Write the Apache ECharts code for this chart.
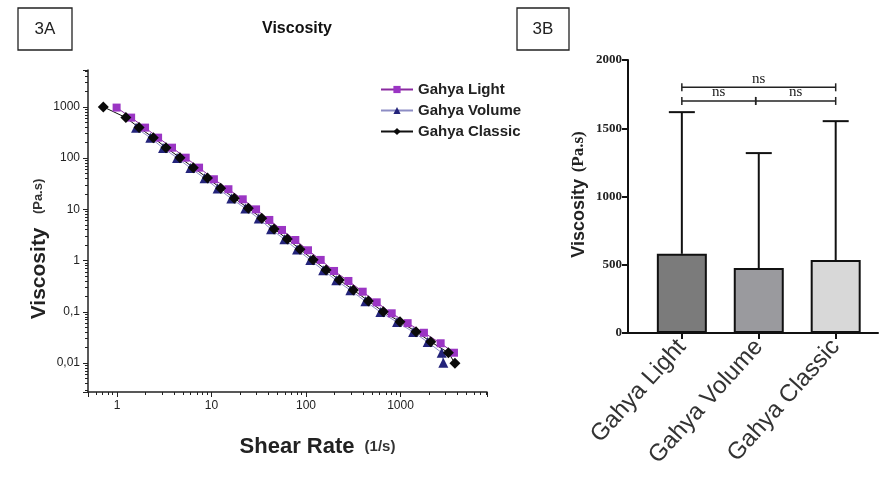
<!DOCTYPE html>
<html>
<head>
<meta charset="utf-8">
<script src="https://cdn.jsdelivr.net/npm/echarts@6/dist/echarts.min.js"></script>
<style>
  html, body { margin: 0; padding: 0; background: #fff; }
  #chart { width: 879px; height: 482px; }
</style>
</head>
<body>
<div id="chart"></div>
<script>
// ---- 3A : viscosity vs shear rate (log/log) ----
var shearLight = [0.99, 1.41, 1.98, 2.72, 3.82, 5.33, 7.38, 10.6, 15.1, 21.4, 29.6, 40.9, 55.7, 77.1, 105, 143, 198, 281, 398, 560, 807, 1190, 1770, 2660, 3680];
var viscLight  = [969, 618, 394, 251, 160, 102, 65.2, 38.7, 24.7, 15.7, 10.0, 6.21, 3.96, 2.52, 1.59, 1.03, 0.627, 0.40, 0.247, 0.153, 0.0935, 0.060, 0.039, 0.0243, 0.0159];

var shearVolume = [1.59, 2.25, 3.07, 4.32, 5.97, 8.44, 11.6, 16.2, 22.8, 31.6, 42.7, 59.0, 80.4, 111, 152, 209, 295, 425, 612, 919, 1360, 1940, 2730, 2840];
var viscVolume  = [392, 250, 158, 101, 64.5, 40.6, 25.5, 16.3, 10.4, 6.62, 4.10, 2.61, 1.64, 1.03, 0.648, 0.413, 0.264, 0.161, 0.099, 0.063, 0.0405, 0.0257, 0.0159, 0.0101];

var shearClassic = [0.716, 1.24, 1.71, 2.42, 3.30, 4.64, 6.42, 9.07, 12.5, 17.4, 24.5, 34.0, 45.9, 63.4, 86.4, 119, 163, 225, 317, 457, 658, 988, 1460, 2090, 3210, 3770];
var viscClassic  = [1000, 618, 394, 251, 160, 102, 65.2, 41.0, 25.8, 16.5, 10.5, 6.70, 4.14, 2.64, 1.66, 1.04, 0.655, 0.418, 0.267, 0.163, 0.100, 0.064, 0.041, 0.026, 0.0159, 0.0099];

// ---- 3B : mean viscosity with upper SD ----
var products = ['Gahya Light', 'Gahya Volume', 'Gahya Classic'];
var meanVisc = [580, 476, 534];
var upperSD  = [1618, 1318, 1552];
var barColors = ['#7b7b7b', '#9a9a9e', '#d8d8d8'];
// comparisons: [from, to, height, label]
var comparisons = [[1, 3, 1800, 'ns'], [1, 1.96, 1700, 'ns'], [1.96, 3, 1700, 'ns']];

function zip(a, b) {
  return a.map(function (v, i) { return [v, b[i]]; });
}

var myChart = echarts.init(document.getElementById('chart'));

var boxStyle = { fill: '#fff', stroke: '#222', lineWidth: 1.3 };

var option = {
  backgroundColor: '#fff',
  animation: false,
  textStyle: { fontFamily: 'Liberation Sans, Arial, sans-serif' },
  title: {
    text: 'Viscosity',
    left: 292,
    top: 16,
    textAlign: 'center',
    textStyle: { fontSize: 16, fontWeight: 'bold', color: '#111' }
  },
  graphic: [
    { type: 'rect', shape: { x: 18, y: 8, width: 54, height: 42 }, style: boxStyle },
    { type: 'text', x: 45, y: 29, style: { text: '3A', fontSize: 17, fill: '#222', align: 'center', verticalAlign: 'middle', fontFamily: 'Liberation Sans' } },
    { type: 'rect', shape: { x: 517, y: 8, width: 52, height: 42 }, style: boxStyle },
    { type: 'text', x: 543, y: 29, style: { text: '3B', fontSize: 17, fill: '#222', align: 'center', verticalAlign: 'middle', fontFamily: 'Liberation Sans' } }
  ],
  legend: {
    orient: 'vertical',
    left: 375,
    top: 77,
    itemGap: 6,
    itemWidth: 32,
    itemHeight: 9,
    data: ['Gahya Light', 'Gahya Volume', 'Gahya Classic'],
    textStyle: { fontSize: 15, fontWeight: 'bold', color: '#222' }
  },
  grid: [
    { left: 88, top: 70, width: 399, height: 322 },
    { left: 628, top: 60, width: 250, height: 273 }
  ],
  xAxis: [
    {
      type: 'log',
      gridIndex: 0,
      min: 0.493,
      max: 8230,
      logBase: 10,
      name: '{b|Shear Rate}   {s|(1/s)}',
      nameLocation: 'middle',
      nameGap: 44,
      nameTextStyle: {
        padding: [0, 0, 0, 60],
        rich: {
          b: { fontSize: 22, fontWeight: 'bold', color: '#222' },
          s: { fontSize: 15, fontWeight: 'bold', color: '#333' }
        }
      },
      axisLine: { lineStyle: { color: '#222', width: 1.5 } },
      axisTick: { inside: false, length: 5, lineStyle: { color: '#222' } },
      minorTick: { show: true, splitNumber: 9, length: 3, lineStyle: { color: '#222' } },
      axisLabel: {
        fontSize: 12,
        color: '#222',
        showMinLabel: false,
        showMaxLabel: false,
        formatter: function (v) { return String(v); }
      },
      splitLine: { show: false }
    },
    {
      type: 'value',
      gridIndex: 1,
      min: 0.3,
      max: 3.55,
      axisLine: { lineStyle: { color: '#111', width: 2 } },
      axisTick: { length: 6, lineStyle: { color: '#111', width: 2 }, customValues: [1, 2, 3] },
      axisLabel: {
        customValues: [1, 2, 3],
        rotate: 48,
        fontSize: 24,
        color: '#333',
        margin: 10,
        formatter: function (v) { return products[Math.round(v) - 1]; }
      },
      splitLine: { show: false }
    }
  ],
  yAxis: [
    {
      type: 'log',
      gridIndex: 0,
      min: 0.00272,
      max: 5250,
      logBase: 10,
      name: '{b|Viscosity}    {s|(Pa.s)}',
      nameLocation: 'middle',
      nameGap: 36,
      nameRotate: 90,
      nameTextStyle: {
        padding: [0, 36, 0, 0],
        rich: {
          b: { fontSize: 21, fontWeight: 'bold', color: '#222' },
          s: { fontSize: 13, fontWeight: 'bold', color: '#333' }
        }
      },
      axisLine: { show: true, lineStyle: { color: '#222', width: 1.5 } },
      axisTick: { show: true, inside: false, length: 5, lineStyle: { color: '#222' } },
      minorTick: { show: true, splitNumber: 9, length: 3, lineStyle: { color: '#222' } },
      axisLabel: {
        fontSize: 12,
        color: '#222',
        showMinLabel: false,
        showMaxLabel: false,
        formatter: function (v) { return String(v).replace('.', ','); }
      },
      splitLine: { show: false }
    },
    {
      type: 'value',
      gridIndex: 1,
      min: 0,
      max: 2000,
      interval: 500,
      name: '{b|Viscosity}  {s|(Pa.s)}',
      nameLocation: 'middle',
      nameGap: 40,
      nameRotate: 90,
      nameTextStyle: {
        padding: [0, 0, 0, 4],
        rich: {
          b: { fontSize: 18, fontWeight: 'bold', color: '#222', fontFamily: 'Liberation Sans' },
          s: { fontSize: 17, fontWeight: 'bold', color: '#222', fontFamily: 'Liberation Serif' }
        }
      },
      axisLine: { show: true, lineStyle: { color: '#111', width: 2 } },
      axisTick: { show: true, length: 6, lineStyle: { color: '#111', width: 2 } },
      axisLabel: {
        fontSize: 13,
        fontWeight: 'bold',
        color: '#222',
        fontFamily: 'Liberation Serif',
        margin: 6,
        formatter: function (v) { return String(v); }
      },
      splitLine: { show: false }
    }
  ],
  series: [
    {
      name: 'Gahya Light',
      type: 'line',
      xAxisIndex: 0,
      yAxisIndex: 0,
      data: zip(shearLight, viscLight),
      symbol: 'rect',
      symbolSize: 8,
      itemStyle: { color: '#9b35c4' },
      lineStyle: { color: '#8a2aa0', width: 1 }
    },
    {
      name: 'Gahya Volume',
      type: 'line',
      xAxisIndex: 0,
      yAxisIndex: 0,
      data: zip(shearVolume, viscVolume),
      symbol: 'triangle',
      symbolSize: 10,
      itemStyle: { color: '#23237a' },
      lineStyle: { color: '#8d8dc4', width: 1 }
    },
    {
      name: 'Gahya Classic',
      type: 'line',
      xAxisIndex: 0,
      yAxisIndex: 0,
      data: zip(shearClassic, viscClassic),
      symbol: 'diamond',
      symbolSize: 11,
      itemStyle: { color: '#0a0a0a' },
      lineStyle: { color: '#111', width: 1 }
    },
    {
      name: 'mean',
      type: 'bar',
      xAxisIndex: 1,
      yAxisIndex: 1,
      barWidth: 50,
      data: meanVisc.map(function (v, i) {
        return { value: [i + 1, v], itemStyle: { color: barColors[i] } };
      }),
      itemStyle: { borderColor: '#111', borderWidth: 2 },
      z: 2
    },
    {
      name: 'sd',
      type: 'custom',
      xAxisIndex: 1,
      yAxisIndex: 1,
      data: meanVisc.map(function (v, i) { return [i + 1, v, upperSD[i]]; }),
      renderItem: function (params, api) {
        var base = api.coord([api.value(0), api.value(1)]);
        var top = api.coord([api.value(0), api.value(2)]);
        var cap = 13;
        return {
          type: 'group',
          children: [
            { type: 'line', shape: { x1: base[0], y1: base[1], x2: top[0], y2: top[1] }, style: { stroke: '#111', lineWidth: 2 } },
            { type: 'line', shape: { x1: top[0] - cap, y1: top[1], x2: top[0] + cap, y2: top[1] }, style: { stroke: '#111', lineWidth: 2 } }
          ]
        };
      },
      z: 3
    },
    {
      name: 'sig',
      type: 'custom',
      xAxisIndex: 1,
      yAxisIndex: 1,
      data: comparisons,
      renderItem: function (params, api) {
        var a = api.coord([api.value(0), api.value(2)]);
        var b = api.coord([api.value(1), api.value(2)]);
        var t = 4;
        var st = { stroke: '#222', lineWidth: 1.5 };
        return {
          type: 'group',
          children: [
            { type: 'line', shape: { x1: a[0], y1: a[1], x2: b[0], y2: b[1] }, style: st },
            { type: 'line', shape: { x1: a[0], y1: a[1] - t, x2: a[0], y2: a[1] + t }, style: st },
            { type: 'line', shape: { x1: b[0], y1: b[1] - t, x2: b[0], y2: b[1] + t }, style: st },
            {
              type: 'text',
              x: (a[0] + b[0]) / 2,
              y: a[1] - 1,
              style: {
                text: comparisons[params.dataIndex][3],
                fontSize: 15,
                fontFamily: 'Liberation Serif',
                fill: '#222',
                align: 'center',
                verticalAlign: 'bottom'
              }
            }
          ]
        };
      },
      z: 3
    }
  ]
};

myChart.setOption(option);
</script>
</body>
</html>
